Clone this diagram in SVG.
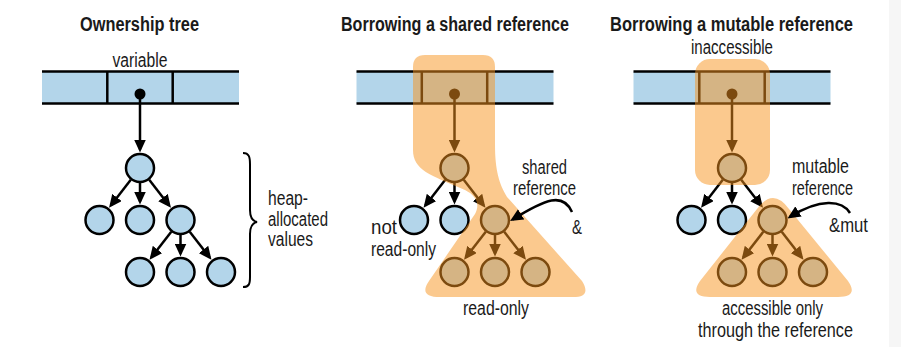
<svg xmlns="http://www.w3.org/2000/svg" width="901" height="347" viewBox="0 0 901 347">
<defs>
<marker id="ah" markerUnits="userSpaceOnUse" markerWidth="13" markerHeight="12" viewBox="0 0 13 12" refX="10" refY="6" orient="auto"><path d="M0,0 L13,6 L0,12 Z" fill="#000"/></marker>
<style>
.bar{fill:#b3d5ea}
.rail{stroke:#000;stroke-width:2.5;fill:none}
.div{stroke:#000;stroke-width:2.5}
.node{fill:#b3d5ea;stroke:#000;stroke-width:2.5}
.edge{stroke:#000;stroke-width:2.5;fill:none;marker-end:url(#ah)}
.blob{fill:#f7931e;fill-opacity:0.5}
.t{font-family:"Liberation Sans",Arial,sans-serif;font-size:20px;fill:#1a1a1a}
.h{font-family:"Liberation Sans",Arial,sans-serif;font-size:21px;font-weight:bold;fill:#1a1a1a}
</style>
</defs>
<rect x="0" y="0" width="901" height="347" fill="#fff"/>
<rect x="889" y="0" width="12" height="347" fill="#f6f6f6"/>

<g id="bars">
<rect class="bar" x="42" y="71.5" width="197" height="32"/>
<path class="rail" d="M42 71.5 H239 M42 103.5 H239"/>
<path class="div" d="M107.3 71.5 V103.5 M172.7 71.5 V103.5"/>
<rect class="bar" x="356.5" y="71.5" width="197" height="32"/>
<path class="rail" d="M356.5 71.5 H553.5 M356.5 103.5 H553.5"/>
<path class="div" d="M421.8 71.5 V103.5 M487.2 71.5 V103.5"/>
<rect class="bar" x="633.5" y="71.5" width="197" height="32"/>
<path class="rail" d="M633.5 71.5 H830.5 M633.5 103.5 H830.5"/>
<path class="div" d="M699.3 71.5 V103.5 M764.7 71.5 V103.5"/>
</g>

<g id="connectors">
<circle cx="140" cy="94" r="5.5" fill="#000"/>
<line class="edge" x1="140" y1="94" x2="140" y2="149.5"/>
<line class="edge" x1="130.78" y1="179.83" x2="110.87" y2="205.4"/>
<line class="edge" x1="140" y1="183" x2="140" y2="201.5"/>
<line class="edge" x1="149.22" y1="179.83" x2="169.13" y2="205.4"/>
<line class="edge" x1="171.28" y1="231.83" x2="151.37" y2="257.4"/>
<line class="edge" x1="180.5" y1="235" x2="180.5" y2="253.5"/>
<line class="edge" x1="189.72" y1="231.83" x2="209.63" y2="257.4"/>

<circle cx="454.5" cy="94" r="5.5" fill="#000"/>
<line class="edge" x1="454.5" y1="94" x2="454.5" y2="149.5"/>
<line class="edge" x1="445.28" y1="179.83" x2="425.37" y2="205.4"/>
<line class="edge" x1="454.5" y1="183" x2="454.5" y2="201.5"/>
<line class="edge" x1="463.72" y1="179.83" x2="483.63" y2="205.4"/>
<line class="edge" x1="485.78" y1="231.83" x2="465.87" y2="257.4"/>
<line class="edge" x1="495" y1="235" x2="495" y2="253.5"/>
<line class="edge" x1="504.22" y1="231.83" x2="524.13" y2="257.4"/>

<circle cx="732" cy="94" r="5.5" fill="#000"/>
<line class="edge" x1="732" y1="94" x2="732" y2="149.5"/>
<line class="edge" x1="722.78" y1="179.83" x2="702.87" y2="205.4"/>
<line class="edge" x1="732" y1="183" x2="732" y2="201.5"/>
<line class="edge" x1="741.22" y1="179.83" x2="761.13" y2="205.4"/>
<line class="edge" x1="763.28" y1="231.83" x2="743.37" y2="257.4"/>
<line class="edge" x1="772.5" y1="235" x2="772.5" y2="253.5"/>
<line class="edge" x1="781.72" y1="231.83" x2="801.63" y2="257.4"/>
</g>

<g id="p1-root"><circle class="node" cx="140" cy="168" r="14"/></g>
<g id="p1-a"><circle class="node" cx="99.5" cy="220" r="14"/></g>
<g id="p1-b"><circle class="node" cx="140" cy="220" r="14"/></g>
<g id="p1-c"><circle class="node" cx="180.5" cy="220" r="14"/></g>
<g id="p1-d"><circle class="node" cx="140" cy="272" r="14"/></g>
<g id="p1-e"><circle class="node" cx="180.5" cy="272" r="14"/></g>
<g id="p1-f"><circle class="node" cx="221" cy="272" r="14"/></g>

<g id="p2-root"><circle class="node" cx="454.5" cy="168" r="14"/></g>
<g id="p2-a"><circle class="node" cx="414" cy="220" r="14"/></g>
<g id="p2-b"><circle class="node" cx="454.5" cy="220" r="14"/></g>
<g id="p2-c"><circle class="node" cx="495" cy="220" r="14"/></g>
<g id="p2-d"><circle class="node" cx="454.5" cy="272" r="14"/></g>
<g id="p2-e"><circle class="node" cx="495" cy="272" r="14"/></g>
<g id="p2-f"><circle class="node" cx="535.5" cy="272" r="14"/></g>

<g id="p3-root"><circle class="node" cx="732" cy="168" r="14"/></g>
<g id="p3-a"><circle class="node" cx="691.5" cy="220" r="14"/></g>
<g id="p3-b"><circle class="node" cx="732" cy="220" r="14"/></g>
<g id="p3-c"><circle class="node" cx="772.5" cy="220" r="14"/></g>
<g id="p3-d"><circle class="node" cx="732" cy="272" r="14"/></g>
<g id="p3-e"><circle class="node" cx="772.5" cy="272" r="14"/></g>
<g id="p3-f"><circle class="node" cx="813" cy="272" r="14"/></g>

<g id="shared-region">
<path class="blob" d="M425 55 L483 55 Q495 55 495 67 L495 145 C495 170 499 184 507 197 L582 281 Q592 297 573 297 L440 297 Q418 297 429 281 L475 214 C480 205 477 196 465 190 C430 175 413 170 413 150 L413 67 Q413 55 425 55 Z"/>
</g>
<g id="inaccessible-region">
<rect class="blob" x="695" y="59" width="75" height="126" rx="15" ry="15"/>
</g>
<g id="mutable-region">
<path class="blob" d="M757 209 Q773 187 789 209 L848 281 Q859 297 838 297 L710 297 Q689 297 700 281 Z"/>
</g>

<g id="annotations">
<path d="M243 153 C249 153 250 157 250 164 L250 210 C250 217 252 221 257 222 C252 223 250 227 250 234 L250 277 C250 284 249 287 243 287" fill="none" stroke="#000" stroke-width="2"/>
<path class="edge" d="M572 212 C563 192 546 199 512.6 219.5"/>
<path class="edge" d="M850 213 C842 200 820 198 790 216.8"/>
</g>

<g id="labels">
<text class="h" transform="translate(80,31) scale(0.8,1)" x="0" y="0" textLength="148.75" lengthAdjust="spacingAndGlyphs">Ownership tree</text>
<text class="h" transform="translate(341,31) scale(0.8,1)" x="0" y="0" textLength="285" lengthAdjust="spacingAndGlyphs">Borrowing a shared reference</text>
<text class="h" transform="translate(610,31) scale(0.8,1)" x="0" y="0" textLength="303.75" lengthAdjust="spacingAndGlyphs">Borrowing a mutable reference</text>
<text class="t" x="112.5" y="67" textLength="55" lengthAdjust="spacingAndGlyphs">variable</text>
<text class="t" x="268" y="205" textLength="40" lengthAdjust="spacingAndGlyphs">heap-</text>
<text class="t" x="268" y="225.5" textLength="60" lengthAdjust="spacingAndGlyphs">allocated</text>
<text class="t" x="268" y="246" textLength="45" lengthAdjust="spacingAndGlyphs">values</text>
<text class="t" x="371" y="234" textLength="26" lengthAdjust="spacingAndGlyphs">not</text>
<text class="t" x="371" y="256" textLength="65" lengthAdjust="spacingAndGlyphs">read-only</text>
<text class="t" x="522" y="174" textLength="45" lengthAdjust="spacingAndGlyphs">shared</text>
<text class="t" x="513" y="195" textLength="63" lengthAdjust="spacingAndGlyphs">reference</text>
<text class="t" x="572" y="234" textLength="10" lengthAdjust="spacingAndGlyphs">&amp;</text>
<text class="t" x="463" y="315" textLength="66" lengthAdjust="spacingAndGlyphs">read-only</text>
<text class="t" x="691" y="54" textLength="82" lengthAdjust="spacingAndGlyphs">inaccessible</text>
<text class="t" x="792" y="173" textLength="57" lengthAdjust="spacingAndGlyphs">mutable</text>
<text class="t" x="792" y="195" textLength="61" lengthAdjust="spacingAndGlyphs">reference</text>
<text class="t" x="829" y="232" textLength="39" lengthAdjust="spacingAndGlyphs">&amp;mut</text>
<text class="t" x="722" y="315" textLength="101" lengthAdjust="spacingAndGlyphs">accessible only</text>
<text class="t" x="698" y="337" textLength="155" lengthAdjust="spacingAndGlyphs">through the reference</text>
</g>
</svg>
